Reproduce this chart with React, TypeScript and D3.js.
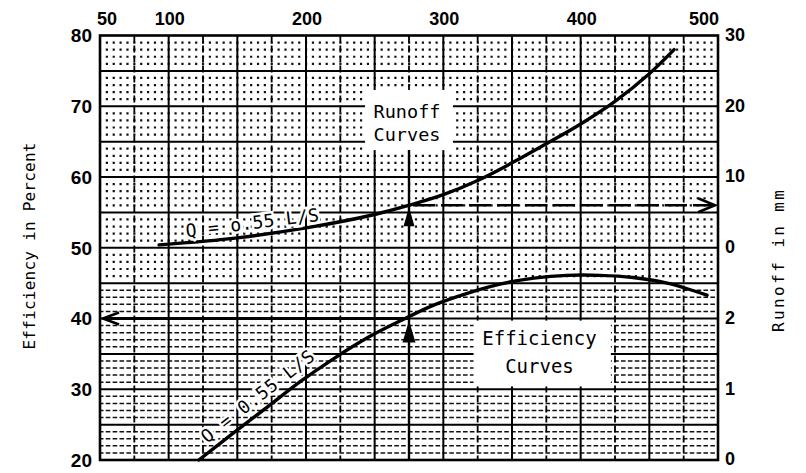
import React, { useEffect, useRef } from 'react';
import * as d3 from 'd3';

// values
const topTicks = [50, 100, 200, 300, 400, 500];
const effTicks = [20, 30, 40, 50, 60, 70, 80];
const runoffTicksUpper = [0, 10, 20, 30];
const runoffTicksLower = [0, 1, 2];

// runoff curve: x value, runoff in mm (upper right scale)
const runoffX = [93, 150, 200, 250, 275, 300, 325, 350, 375, 400, 425, 450, 468];
const runoffMm = [0.4, 1.4, 2.8, 4.7, 6.0, 7.5, 9.5, 12.0, 14.7, 17.5, 20.7, 24.6, 28.0];

// efficiency curve: x value, efficiency in percent
const effX = [122, 147, 172, 196, 220, 245, 270, 293, 318, 342, 366, 390, 414, 438, 463, 492];
const effPct = [20, 23.8, 27.5, 31.1, 34.3, 37.3, 39.8, 41.9, 43.6, 44.9, 45.7, 46.1, 46.1, 45.8, 45.0, 43.3];

const readX = 275;    // reading line
const readEff = 40;   // efficiency read at readX
const readRunoff = 6; // runoff read at readX

const width = 806;
const height = 473;

const numFont = '"Liberation Sans", Arial, sans-serif';
const monoFont = '"DejaVu Sans Mono", "Liberation Mono", monospace';

const App: React.FC = () => {
    const svgRef = useRef(null);

    useEffect(() => {
        const svg = d3.select(svgRef.current);
        svg.selectAll("*").remove();

        const x = d3.scaleLinear().domain([50, 500]).range([100, 718]);
        const y = d3.scaleLinear().domain([20, 80]).range([460, 35.5]);
        const yRun = d3.scaleLinear().domain([0, 30]).range([y(50), y(80)]);
        const yRunLow = d3.scaleLinear().domain([0, 3]).range([y(20), y(50)]);

        const g = svg.append("g");

        // fine grid: dotted rows above 45 %, dashed rows below
        const fine = d3.range(21, 80, 1).filter(v => v % 5 !== 0);
        g.selectAll("line.fine")
            .data(fine)
            .enter().append("line")
            .attr("x1", x(50)).attr("x2", x(500))
            .attr("y1", d => y(d)).attr("y2", d => y(d))
            .attr("stroke", "#111")
            .attr("stroke-width", d => d < 45 ? 1.5 : 2.2)
            .attr("stroke-dasharray", d => d < 45 ? "4.6 2.27" : "2.2 4.67")
            .attr("stroke-dashoffset", 1.1);

        // vertical lines every 25 units
        const vlines = d3.range(75, 500, 25);
        g.selectAll("line.v")
            .data(vlines)
            .enter().append("line")
            .attr("x1", d => x(d)).attr("x2", d => x(d))
            .attr("y1", y(80)).attr("y2", y(20))
            .attr("stroke", "#000")
            .attr("stroke-width", d => d % 50 === 0 ? 2 : 1.8)
            .attr("stroke-dasharray", d => d % 50 === 0 ? null : "7 3");

        // horizontal lines every 5 %
        const hlines = d3.range(25, 80, 5);
        g.selectAll("line.h")
            .data(hlines)
            .enter().append("line")
            .attr("x1", x(50)).attr("x2", x(500))
            .attr("y1", d => y(d)).attr("y2", d => y(d))
            .attr("stroke", "#000")
            .attr("stroke-width", 2);

        // frame
        g.append("rect")
            .attr("x", x(50)).attr("y", y(80))
            .attr("width", x(500) - x(50)).attr("height", y(20) - y(80))
            .attr("fill", "none").attr("stroke", "#000").attr("stroke-width", 2.6);

        // white label boxes
        g.append("rect")
            .attr("x", x(243)).attr("y", y(72.3))
            .attr("width", x(307) - x(243)).attr("height", y(63.8) - y(72.3))
            .attr("fill", "#fff");
        g.append("rect")
            .attr("x", x(322)).attr("y", y(39.7))
            .attr("width", x(422) - x(322)).attr("height", y(30.4) - y(39.7))
            .attr("fill", "#fff");

        const line = d3.line<[number, number]>().curve(d3.curveCatmullRom.alpha(0.5));

        // runoff curve
        g.append("path")
            .attr("d", line(runoffX.map((v, i) => [x(v), yRun(runoffMm[i])])))
            .attr("fill", "none").attr("stroke", "#000").attr("stroke-width", 3.4)
            .attr("stroke-linecap", "round");

        // efficiency curve
        g.append("path")
            .attr("d", line(effX.map((v, i) => [x(v), y(effPct[i])])))
            .attr("fill", "none").attr("stroke", "#000").attr("stroke-width", 3.4)
            .attr("stroke-linecap", "round");

        // reading line with arrowheads
        const ax = x(readX);
        g.append("line")
            .attr("x1", ax).attr("x2", ax)
            .attr("y1", y(20)).attr("y2", y(63.8))
            .attr("stroke", "#000").attr("stroke-width", 2.4);
        const upHead = (tipY: number, w: number, h: number) =>
            g.append("path")
                .attr("d", `M${ax},${tipY} L${ax - w / 2},${tipY + h} L${ax + w / 2},${tipY + h} Z`)
                .attr("fill", "#000");
        upHead(yRun(readRunoff) + 2, 11, 19);
        upHead(y(readEff) + 2, 13, 22);

        // efficiency read back to left axis
        const ey = y(readEff);
        g.append("line")
            .attr("x1", ax).attr("x2", x(50) + 3)
            .attr("y1", ey).attr("y2", ey)
            .attr("stroke", "#000").attr("stroke-width", 3);
        g.append("path")
            .attr("d", `M${x(50) + 19},${ey - 6} L${x(50) + 3},${ey} L${x(50) + 19},${ey + 6}`)
            .attr("fill", "none").attr("stroke", "#000").attr("stroke-width", 2.6);

        // runoff read to right axis (dashed)
        const ry = yRun(readRunoff);
        g.append("line")
            .attr("x1", ax + 4).attr("x2", x(500) - 4)
            .attr("y1", ry).attr("y2", ry)
            .attr("stroke", "#000").attr("stroke-width", 2.6)
            .attr("stroke-dasharray", "22 6");
        g.append("path")
            .attr("d", `M${x(500) - 20},${ry - 7} L${x(500) - 3},${ry} L${x(500) - 20},${ry + 7}`)
            .attr("fill", "none").attr("stroke", "#000").attr("stroke-width", 2.6);

        // curve labels
        g.append("text")
            .attr("transform", `translate(${x(113)},${y(51.5)}) rotate(-7)`)
            .attr("font-family", monoFont).attr("font-size", 18)
            .attr("fill", "#000")
            .attr("stroke", "#fff").attr("stroke-width", 5)
            .attr("paint-order", "stroke")
            .attr("textLength", 134)
            .attr("lengthAdjust", "spacing")
            .text("Q = o.55 L/S");

        g.append("text")
            .attr("transform", `translate(${x(128)},${y(22.3)}) rotate(-38)`)
            .attr("font-family", monoFont).attr("font-size", 18)
            .attr("fill", "#000")
            .attr("stroke", "#fff").attr("stroke-width", 5)
            .attr("paint-order", "stroke")
            .attr("textLength", 138)
            .attr("lengthAdjust", "spacing")
            .text("Q = 0.55 L/S");

        const boxLabel = (lines: string[], cx: number, baselines: number[], size: number) => {
            lines.forEach((t, i) => {
                g.append("text")
                    .attr("x", cx).attr("y", baselines[i])
                    .attr("text-anchor", "middle")
                    .attr("font-family", monoFont).attr("font-size", size)
                    .attr("fill", "#000")
                    .text(t);
            });
        };
        boxLabel(["Runoff", "Curves"], x(275) - 2, [yRun(18.3), yRun(15.1)], 18.5);
        boxLabel(["Efficiency", "Curves"], x(370), [y(36.3), y(32.3)], 19);

        // top axis labels
        g.selectAll("text.top")
            .data(topTicks)
            .enter().append("text")
            .attr("x", d => x(d) + (d === 50 ? 7 : d === 500 ? -14 : 1))
            .attr("y", 25)
            .attr("text-anchor", "middle")
            .attr("font-family", numFont).attr("font-size", 18).attr("font-weight", "bold")
            .text(d => d);

        // left axis labels
        g.selectAll("text.left")
            .data(effTicks)
            .enter().append("text")
            .attr("x", 92)
            .attr("y", d => y(d))
            .attr("dy", "0.36em")
            .attr("text-anchor", "end")
            .attr("font-family", numFont).attr("font-size", 19).attr("font-weight", "bold")
            .text(d => d);

        // right axis labels, two runoff scales
        const rightLabels = [
            ...runoffTicksUpper.map(d => ({ t: d, py: yRun(d) })),
            ...runoffTicksLower.map(d => ({ t: d, py: yRunLow(d) })),
        ];
        g.selectAll("text.right")
            .data(rightLabels)
            .enter().append("text")
            .attr("x", 725)
            .attr("y", d => d.py - 1)
            .attr("dy", "0.36em")
            .attr("font-family", numFont).attr("font-size", 18).attr("font-weight", "bold")
            .text(d => d.t);

        // axis titles
        g.append("text")
            .attr("transform", `translate(35,${246}) rotate(-90)`)
            .attr("text-anchor", "middle")
            .attr("font-family", monoFont).attr("font-size", 16)
            .attr("textLength", 207).attr("lengthAdjust", "spacing")
            .text("Efficiency in Percent");
        g.append("text")
            .attr("transform", `translate(784,${261}) rotate(-90)`)
            .attr("text-anchor", "middle")
            .attr("font-family", monoFont).attr("font-size", 16)
            .attr("textLength", 142).attr("lengthAdjust", "spacing")
            .text("Runoff in mm");
    }, []);

    return (
        <svg ref={svgRef} width={width} height={height}
            style={{ backgroundColor: 'white', position: 'absolute', left: 0, top: 0 }}></svg>
    );
};

export default App;
